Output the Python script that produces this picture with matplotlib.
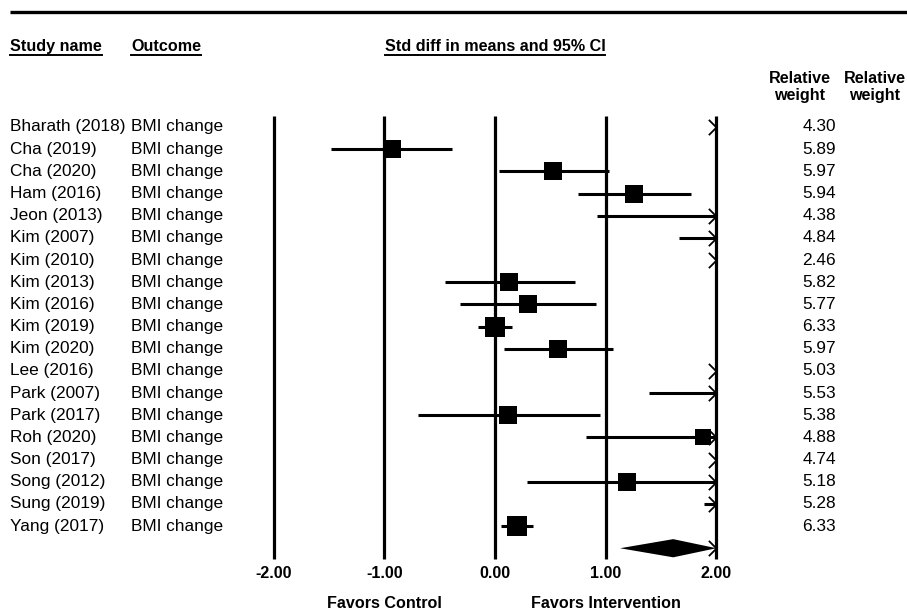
import numpy as np
import matplotlib.pyplot as plt
from matplotlib.lines import Line2D
from matplotlib.path import Path

plt.rcParams['font.family'] = ['Liberation Sans', 'DejaVu Sans']

# ─── DATA ─────────────────────────────────────────────────────────────────────
studies = ['Bharath (2018)', 'Cha (2019)', 'Cha (2020)', 'Ham (2016)', 'Jeon (2013)',
           'Kim (2007)', 'Kim (2010)', 'Kim (2013)', 'Kim (2016)', 'Kim (2019)',
           'Kim (2020)', 'Lee (2016)', 'Park (2007)', 'Park (2017)', 'Roh (2020)',
           'Son (2017)', 'Song (2012)', 'Sung (2019)', 'Yang (2017)']
outcome = 'BMI change'
effect = [3.00, -0.93, 0.52, 1.26, 2.45, 2.60, 3.40, 0.13, 0.30, 0.00,
          0.57, 3.10, 2.40, 0.12, 1.88, 3.20, 1.19, 2.25, 0.20]
lower = [2.20, -1.48, 0.04, 0.75, 0.92, 1.66, 2.30, -0.45, -0.32, -0.15,
         0.08, 2.30, 1.39, -0.70, 0.82, 2.40, 0.29, 1.89, 0.05]
upper = [3.80, -0.39, 1.03, 1.77, 3.98, 3.54, 4.50, 0.72, 0.91, 0.15,
         1.07, 3.90, 3.41, 0.95, 2.94, 4.00, 2.09, 2.61, 0.34]
weights = [4.30, 5.89, 5.97, 5.94, 4.38, 4.84, 2.46, 5.82, 5.77, 6.33,
           5.97, 5.03, 5.53, 5.38, 4.88, 4.74, 5.18, 5.28, 6.33]
summary_est, summary_lo, summary_hi = 1.61, 1.13, 2.10
ticks = [-2, -1, 0, 1, 2]
tick_labels = ['-2.00', '-1.00', '0.00', '1.00', '2.00']

# ─── LAYOUT ───────────────────────────────────────────────────────────────────
W, H = 907, 615
x0_px, unit_px = 495, 110.7      # pixel of 0.00 and pixels per unit
y0_px, row_px = 127, 22.17       # pixel of first row and row spacing
lim = 2.0

fig = plt.figure(figsize=(W / 100, H / 100), dpi=100)
ax = fig.add_axes([0, 0, 1, 1])
ax.set_xlim(-x0_px / unit_px, (W - x0_px) / unit_px)
ax.set_ylim((H - y0_px) / row_px, -y0_px / row_px)
ax.axis('off')

def px_x(p):
    return (p - x0_px) / unit_px

def px_y(p):
    return (p - y0_px) / row_px

n = len(studies)
rows = np.arange(n)
summary_row = n

# chevron marker for truncated intervals
chevron = Path([(-1, 1), (0, 0), (-1, -1)], [Path.MOVETO, Path.LINETO, Path.LINETO])

# vertical reference lines
for t in ticks:
    ax.plot([t, t], [px_y(116), px_y(559)], color='black', lw=2.3, solid_capstyle='butt')

# study rows
fs = 12.4     # body text
fb = 11.6     # bold text
for i in rows:
    ax.text(px_x(10), i, studies[i], fontsize=fs, va='center', ha='left')
    ax.text(px_x(131), i, outcome, fontsize=fs, va='center', ha='left')
    ax.text(px_x(836), i, f'{weights[i]:.2f}', fontsize=fs, va='center', ha='right')

    lo = max(lower[i], -lim)
    hi = min(upper[i], lim)
    if lo < hi:
        ax.plot([lo, hi], [i, i], color='black', lw=2.2, solid_capstyle='butt')
    if upper[i] > lim:
        ax.plot([lim], [i], marker=chevron, ms=11, mfc='none', mec='black', mew=1.3,
                linestyle='none')
    if -lim <= effect[i] <= lim:
        size = 18.5 * np.sqrt(weights[i] / 6.0) * 0.72
        ax.plot([effect[i]], [i], marker='s', ms=size, color='black', mew=0)

# summary diamond
hi_s = min(summary_hi, lim)
dh = 0.41
ax.fill([summary_lo, summary_est, hi_s, summary_est],
        [summary_row, summary_row - dh, summary_row, summary_row + dh],
        color='black', lw=0)
if summary_hi > lim:
    ax.plot([lim], [summary_row], marker=chevron, ms=11, mfc='none', mec='black',
            mew=1.3, linestyle='none')

# axis labels
for t, lab in zip(ticks, tick_labels):
    ax.text(t, px_y(574), lab, fontsize=fb, fontweight='bold', ha='center', va='center')
ax.text(-1, px_y(604), 'Favors Control', fontsize=fb, fontweight='bold',
        ha='center', va='center')
ax.text(1, px_y(604), 'Favors Intervention', fontsize=fb, fontweight='bold',
        ha='center', va='center')

# top rule
ax.plot([px_x(10), px_x(907)], [px_y(12), px_y(12)], color='black', lw=2.4,
        solid_capstyle='butt')

# headers
headers = [
    ax.text(px_x(10), px_y(51), 'Study name', fontsize=fb, fontweight='bold',
            ha='left', va='baseline'),
    ax.text(px_x(131), px_y(51), 'Outcome', fontsize=fb, fontweight='bold',
            ha='left', va='baseline'),
    ax.text(px_x(495), px_y(51), 'Std diff in means and 95% CI', fontsize=fb,
            fontweight='bold', ha='center', va='baseline'),
]
for xc in (800, 875):
    ax.text(px_x(xc), px_y(83), 'Relative', fontsize=fb, fontweight='bold',
            ha='center', va='baseline')
    ax.text(px_x(xc), px_y(100.5), 'weight', fontsize=fb, fontweight='bold',
            ha='center', va='baseline')

# underline headers
fig.canvas.draw()
renderer = fig.canvas.get_renderer()
for t in headers:
    bb = t.get_window_extent(renderer)
    y = H - 55
    fig.add_artist(Line2D([bb.x0, bb.x1], [y, y], transform=None, color='black', lw=1.4))

fig.savefig('out.png', dpi=100)
